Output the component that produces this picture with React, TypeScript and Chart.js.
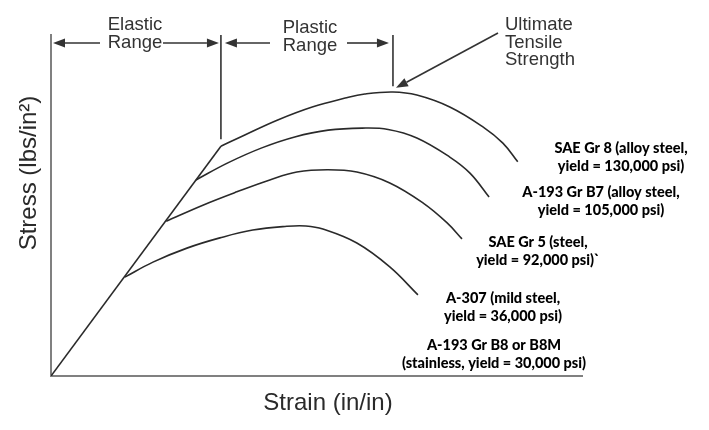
import React, { useEffect, useRef } from "react";
import { Chart, registerables } from "chart.js";

Chart.register(...registerables);

// Strain / stress in normalised units (0-100 on both axes)
const elasticStrain = [0, 32.0];
const elasticStress = [0, 67.4];

const sae8Strain = [32.0, 36.5, 42.7, 49.2, 55.4, 59.1, 64.4, 68.9, 75.1, 81.4, 85.1, 87.9];
const sae8Stress = [67.4, 70.7, 75.1, 78.9, 81.5, 82.7, 83.3, 82.4, 78.9, 73.0, 68.3, 62.8];

const b7Strain = [27.3, 33.3, 39.7, 45.9, 52.2, 58.6, 63.5, 68.9, 75.1, 78.9, 82.5];
const b7Stress = [57.5, 62.5, 66.9, 70.1, 72.1, 72.7, 72.3, 69.8, 64.2, 59.5, 52.5];

const sae5Strain = [21.7, 28.6, 35.0, 41.2, 46.3, 52.0, 57.6, 63.8, 70.1, 74.6, 77.4];
const sae5Stress = [45.4, 50.1, 54.0, 57.5, 59.8, 60.5, 59.8, 56.6, 50.7, 44.9, 40.2];

const a307Strain = [13.9, 19.2, 25.6, 31.8, 38.0, 44.4, 48.0, 51.2, 57.6, 63.8, 69.1];
const a307Stress = [29.0, 33.4, 37.5, 40.5, 42.8, 43.9, 44.0, 43.1, 39.0, 32.0, 23.8];

const materialLabels = [
  ["SAE Gr 8 (alloy steel,", "yield = 130,000 psi)"],
  ["A-193 Gr B7 (alloy steel,", "yield = 105,000 psi)"],
  ["SAE Gr 5 (steel,", "yield = 92,000 psi)`"],
  ["A-307 (mild steel,", "yield = 36,000 psi)"],
  ["A-193 Gr B8 or B8M", "(stainless, yield = 30,000 psi)"],
];

const xTitle = "Strain (in/in)";
const yTitle = "Stress (lbs/in²)";
const elasticText = ["Elastic", "Range"];
const plasticText = ["Plastic", "Range"];
const utsText = ["Ultimate", "Tensile", "Strength"];

const toPts = (xs: number[], ys: number[]) => xs.map((x, i) => ({ x, y: ys[i] }));

const LINE = "#2a2a2a";
const SANS = '"Liberation Sans", Arial, sans-serif';

function arrow(ctx: CanvasRenderingContext2D, x1: number, y1: number, x2: number, y2: number) {
  const a = Math.atan2(y2 - y1, x2 - x1);
  const L = 12, W = 4.5;
  const bx = x2 - L * Math.cos(a), by = y2 - L * Math.sin(a);
  ctx.beginPath();
  ctx.moveTo(x1, y1);
  ctx.lineTo(bx, by);
  ctx.stroke();
  ctx.beginPath();
  ctx.moveTo(x2, y2);
  ctx.lineTo(bx + W * Math.sin(a), by - W * Math.cos(a));
  ctx.lineTo(bx - W * Math.sin(a), by + W * Math.cos(a));
  ctx.closePath();
  ctx.fill();
}

const annotationPlugin = {
  id: "annotations",
  afterDraw(chart: any) {
    const ctx: CanvasRenderingContext2D = chart.ctx;
    const xs = chart.scales.x, ys = chart.scales.y;
    const top = chart.chartArea.top;
    ctx.save();
    ctx.strokeStyle = "#333";
    ctx.fillStyle = "#333";
    ctx.lineWidth = 1.6;

    // range divider lines
    const xYield = xs.getPixelForValue(sae8Strain[0]);
    const xUts = xs.getPixelForValue(sae8Strain[6]);
    ctx.beginPath();
    ctx.moveTo(xYield, top);
    ctx.lineTo(xYield, ys.getPixelForValue(sae8Stress[0] + 2));
    ctx.moveTo(xUts, top);
    ctx.lineTo(xUts, ys.getPixelForValue(sae8Stress[6] + 1.7));
    ctx.stroke();

    const ay = top + 8;
    const x0 = chart.chartArea.left;
    arrow(ctx, 100, ay, x0 + 2, ay);
    arrow(ctx, 163, ay, xYield - 2, ay);
    arrow(ctx, 270, ay, xYield + 4, ay);
    arrow(ctx, 347, ay, xUts - 4, ay);
    arrow(ctx, 498, 33, xUts + 3, ys.getPixelForValue(sae8Stress[6] + 1.2));

    ctx.font = `18.5px ${SANS}`;
    ctx.textBaseline = "middle";
    ctx.textAlign = "center";
    ctx.fillText(elasticText[0], 135, 25);
    ctx.fillText(elasticText[1], 135, 43);
    ctx.fillText(plasticText[0], 310, 28);
    ctx.fillText(plasticText[1], 310, 46);
    ctx.textAlign = "left";
    utsText.forEach((t, i) => ctx.fillText(t, 505, 25 + i * 17.5));

    // axis titles
    ctx.fillStyle = "#2a2a2a";
    ctx.font = `24px ${SANS}`;
    ctx.textAlign = "center";
    ctx.fillText(xTitle, 328, 403);
    ctx.save();
    ctx.translate(29, 173);
    ctx.rotate(-Math.PI / 2);
    ctx.fillText(yTitle, 0, 0);
    ctx.restore();

    // material labels
    const pos = [
      [621, 148],
      [601, 192],
      [538, 242],
      [503, 298],
      [494, 345],
    ];
    ctx.fillStyle = "#000";
    ctx.font = `900 14.5px Lato, sans-serif`;
    materialLabels.forEach((lines, i) => {
      lines.forEach((t, j) => ctx.fillText(t, pos[i][0], pos[i][1] + j * 18.5));
    });
    ctx.restore();
  },
};

export default function App() {
  const ref = useRef<HTMLCanvasElement>(null);
  useEffect(() => {
    document.body.style.margin = "0";
    const ds = (data: any) => ({
      data,
      borderColor: LINE,
      borderWidth: 1.6,
      pointRadius: 0,
      showLine: true,
      fill: false,
    });
    const chart = new Chart(ref.current!, {
      type: "scatter",
      data: {
        datasets: [
          { ...ds(toPts(elasticStrain, elasticStress)), tension: 0 },
          { ...ds(toPts(sae8Strain, sae8Stress)), tension: 0.4 },
          { ...ds(toPts(b7Strain, b7Stress)), tension: 0.4 },
          { ...ds(toPts(sae5Strain, sae5Stress)), tension: 0.4 },
          { ...ds(toPts(a307Strain, a307Stress)), tension: 0.4 },
        ],
      },
      options: {
        animation: false,
        responsive: true,
        maintainAspectRatio: false,
        layout: { padding: { left: 51, top: 35, right: 127, bottom: 54 } },
        plugins: { legend: { display: false }, tooltip: { enabled: false } },
        scales: {
          x: {
            type: "linear",
            min: 0,
            max: 100,
            ticks: { display: false },
            grid: { display: false, drawTicks: false },
            border: { display: true, color: "#808080", width: 2 },
          },
          y: {
            type: "linear",
            min: 0,
            max: 100,
            ticks: { display: false },
            grid: { display: false, drawTicks: false },
            border: { display: true, color: "#808080", width: 2 },
          },
        },
      },
      plugins: [annotationPlugin],
    });
    return () => chart.destroy();
  }, []);
  return (
    <div style={{ width: 709, height: 430, position: "relative", background: "#fff" }}>
      <canvas ref={ref} />
    </div>
  );
}
